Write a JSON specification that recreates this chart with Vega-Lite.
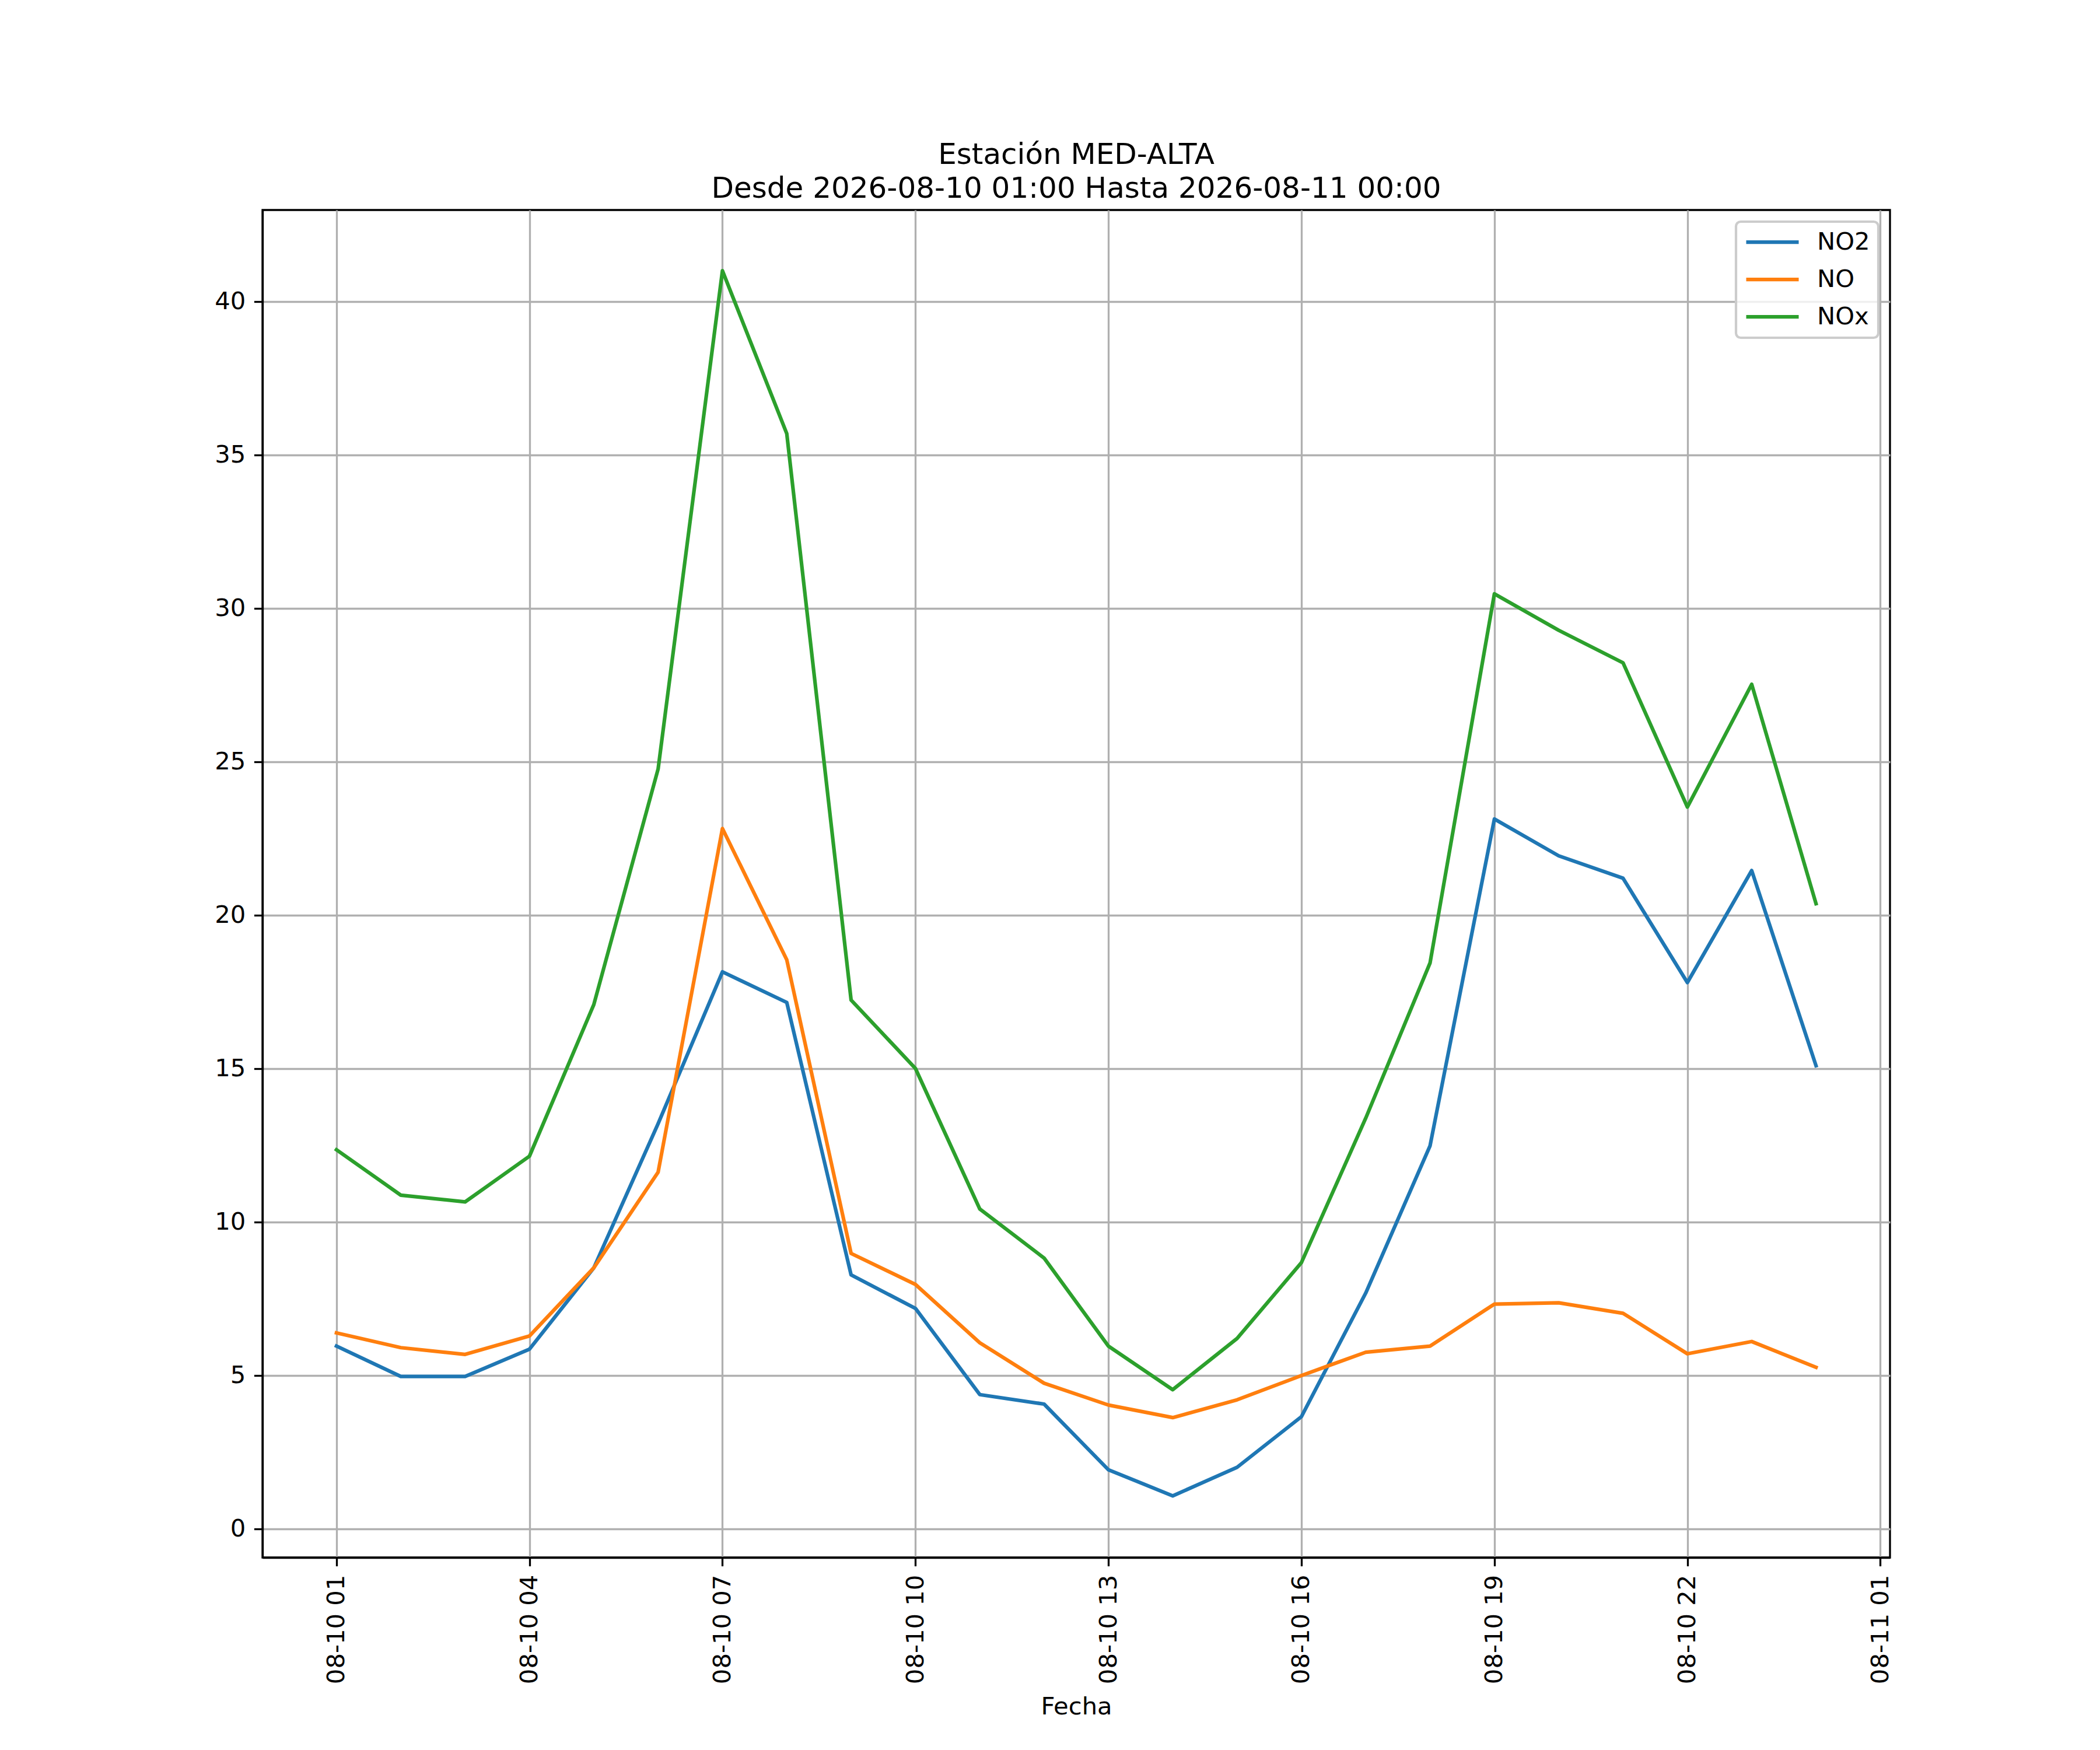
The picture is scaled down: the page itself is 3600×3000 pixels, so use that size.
{
  "$schema": "https://vega.github.io/schema/vega-lite/v6.json",
  "autosize": "none",
  "width": 2790,
  "height": 2310,
  "padding": {"left": 450, "top": 360, "right": 360, "bottom": 330},
  "background": "white",
  "title": {
    "text": ["Estación MED-ALTA", "Desde 2026-08-10 01:00 Hasta 2026-08-11 00:00"],
    "fontSize": 50,
    "font": "DejaVu Sans",
    "fontWeight": "normal",
    "color": "black",
    "anchor": "middle",
    "offset": 11,
    "lineHeight": 58
  },
  "config": {
    "view": {"stroke": "black", "strokeWidth": 3.3},
    "axis": {
      "labelFont": "DejaVu Sans",
      "labelFontSize": 41.7,
      "labelColor": "black",
      "labelLimit": 0,
      "titleFont": "DejaVu Sans",
      "titleFontSize": 41.7,
      "titleFontWeight": "normal",
      "titleColor": "black",
      "domainColor": "black",
      "domainWidth": 3.3,
      "tickColor": "black",
      "tickWidth": 3.3,
      "tickSize": 14.6,
      "labelPadding": 14.6,
      "gridColor": "#b0b0b0",
      "gridWidth": 3.3,
      "gridOpacity": 1
    },
    "legend": {
      "strokeWidth": 4.2
    }
  },
  "data": {
    "values": [
      {"t": "2026-08-10T01:00:00", "s": "NO2", "v": 5.95},
      {"t": "2026-08-10T02:00:00", "s": "NO2", "v": 4.96},
      {"t": "2026-08-10T03:00:00", "s": "NO2", "v": 4.96},
      {"t": "2026-08-10T04:00:00", "s": "NO2", "v": 5.85},
      {"t": "2026-08-10T05:00:00", "s": "NO2", "v": 8.5},
      {"t": "2026-08-10T06:00:00", "s": "NO2", "v": 13.2},
      {"t": "2026-08-10T07:00:00", "s": "NO2", "v": 18.15},
      {"t": "2026-08-10T08:00:00", "s": "NO2", "v": 17.15},
      {"t": "2026-08-10T09:00:00", "s": "NO2", "v": 8.27},
      {"t": "2026-08-10T10:00:00", "s": "NO2", "v": 7.18},
      {"t": "2026-08-10T11:00:00", "s": "NO2", "v": 4.37},
      {"t": "2026-08-10T12:00:00", "s": "NO2", "v": 4.06},
      {"t": "2026-08-10T13:00:00", "s": "NO2", "v": 1.92},
      {"t": "2026-08-10T14:00:00", "s": "NO2", "v": 1.07},
      {"t": "2026-08-10T15:00:00", "s": "NO2", "v": 2.0},
      {"t": "2026-08-10T16:00:00", "s": "NO2", "v": 3.65},
      {"t": "2026-08-10T17:00:00", "s": "NO2", "v": 7.68},
      {"t": "2026-08-10T18:00:00", "s": "NO2", "v": 12.48},
      {"t": "2026-08-10T19:00:00", "s": "NO2", "v": 23.13},
      {"t": "2026-08-10T20:00:00", "s": "NO2", "v": 21.93},
      {"t": "2026-08-10T21:00:00", "s": "NO2", "v": 21.2},
      {"t": "2026-08-10T22:00:00", "s": "NO2", "v": 17.8},
      {"t": "2026-08-10T23:00:00", "s": "NO2", "v": 21.45},
      {"t": "2026-08-11T00:00:00", "s": "NO2", "v": 15.09},
      {"t": "2026-08-10T01:00:00", "s": "NO", "v": 6.38},
      {"t": "2026-08-10T02:00:00", "s": "NO", "v": 5.9},
      {"t": "2026-08-10T03:00:00", "s": "NO", "v": 5.68},
      {"t": "2026-08-10T04:00:00", "s": "NO", "v": 6.28},
      {"t": "2026-08-10T05:00:00", "s": "NO", "v": 8.5},
      {"t": "2026-08-10T06:00:00", "s": "NO", "v": 11.62},
      {"t": "2026-08-10T07:00:00", "s": "NO", "v": 22.82},
      {"t": "2026-08-10T08:00:00", "s": "NO", "v": 18.54},
      {"t": "2026-08-10T09:00:00", "s": "NO", "v": 8.97},
      {"t": "2026-08-10T10:00:00", "s": "NO", "v": 7.96},
      {"t": "2026-08-10T11:00:00", "s": "NO", "v": 6.06},
      {"t": "2026-08-10T12:00:00", "s": "NO", "v": 4.74},
      {"t": "2026-08-10T13:00:00", "s": "NO", "v": 4.03},
      {"t": "2026-08-10T14:00:00", "s": "NO", "v": 3.62},
      {"t": "2026-08-10T15:00:00", "s": "NO", "v": 4.2},
      {"t": "2026-08-10T16:00:00", "s": "NO", "v": 4.99},
      {"t": "2026-08-10T17:00:00", "s": "NO", "v": 5.75},
      {"t": "2026-08-10T18:00:00", "s": "NO", "v": 5.95},
      {"t": "2026-08-10T19:00:00", "s": "NO", "v": 7.32},
      {"t": "2026-08-10T20:00:00", "s": "NO", "v": 7.36},
      {"t": "2026-08-10T21:00:00", "s": "NO", "v": 7.02},
      {"t": "2026-08-10T22:00:00", "s": "NO", "v": 5.7},
      {"t": "2026-08-10T23:00:00", "s": "NO", "v": 6.1},
      {"t": "2026-08-11T00:00:00", "s": "NO", "v": 5.26},
      {"t": "2026-08-10T01:00:00", "s": "NOx", "v": 12.35},
      {"t": "2026-08-10T02:00:00", "s": "NOx", "v": 10.87},
      {"t": "2026-08-10T03:00:00", "s": "NOx", "v": 10.65},
      {"t": "2026-08-10T04:00:00", "s": "NOx", "v": 12.14},
      {"t": "2026-08-10T05:00:00", "s": "NOx", "v": 17.08},
      {"t": "2026-08-10T06:00:00", "s": "NOx", "v": 24.76},
      {"t": "2026-08-10T07:00:00", "s": "NOx", "v": 41.0},
      {"t": "2026-08-10T08:00:00", "s": "NOx", "v": 35.69},
      {"t": "2026-08-10T09:00:00", "s": "NOx", "v": 17.23},
      {"t": "2026-08-10T10:00:00", "s": "NOx", "v": 15.0},
      {"t": "2026-08-10T11:00:00", "s": "NOx", "v": 10.42},
      {"t": "2026-08-10T12:00:00", "s": "NOx", "v": 8.82},
      {"t": "2026-08-10T13:00:00", "s": "NOx", "v": 5.95},
      {"t": "2026-08-10T14:00:00", "s": "NOx", "v": 4.53},
      {"t": "2026-08-10T15:00:00", "s": "NOx", "v": 6.2},
      {"t": "2026-08-10T16:00:00", "s": "NOx", "v": 8.67},
      {"t": "2026-08-10T17:00:00", "s": "NOx", "v": 13.38},
      {"t": "2026-08-10T18:00:00", "s": "NOx", "v": 18.44},
      {"t": "2026-08-10T19:00:00", "s": "NOx", "v": 30.47},
      {"t": "2026-08-10T20:00:00", "s": "NOx", "v": 29.28},
      {"t": "2026-08-10T21:00:00", "s": "NOx", "v": 28.22},
      {"t": "2026-08-10T22:00:00", "s": "NOx", "v": 23.52},
      {"t": "2026-08-10T23:00:00", "s": "NOx", "v": 27.52},
      {"t": "2026-08-11T00:00:00", "s": "NOx", "v": 20.37}
    ]
  },
  "mark": {"type": "line", "strokeWidth": 6.25, "strokeJoin": "round", "strokeCap": "square"},
  "encoding": {
    "x": {
      "field": "t",
      "type": "temporal",
      "title": "Fecha",
      "scale": {
        "domain": [
          {"year": 2026, "month": 8, "date": 9, "hours": 23, "minutes": 51},
          {"year": 2026, "month": 8, "date": 11, "hours": 1, "minutes": 9}
        ],
        "nice": false
      },
      "axis": {
        "values": [
          {"year": 2026, "month": 8, "date": 10, "hours": 1},
          {"year": 2026, "month": 8, "date": 10, "hours": 4},
          {"year": 2026, "month": 8, "date": 10, "hours": 7},
          {"year": 2026, "month": 8, "date": 10, "hours": 10},
          {"year": 2026, "month": 8, "date": 10, "hours": 13},
          {"year": 2026, "month": 8, "date": 10, "hours": 16},
          {"year": 2026, "month": 8, "date": 10, "hours": 19},
          {"year": 2026, "month": 8, "date": 10, "hours": 22},
          {"year": 2026, "month": 8, "date": 11, "hours": 1}
        ],
        "format": "%m-%d %H",
        "labelAngle": 270,
        "titlePadding": 35
      }
    },
    "y": {
      "field": "v",
      "type": "quantitative",
      "title": null,
      "scale": {"domain": [-0.94, 42.98], "nice": false, "zero": false},
      "axis": {"values": [0, 5, 10, 15, 20, 25, 30, 35, 40]}
    },
    "color": {
      "field": "s",
      "type": "nominal",
      "scale": {"domain": ["NO2", "NO", "NOx"], "range": ["#1f77b4", "#ff7f0e", "#2ca02c"]},
      "legend": {
        "title": null,
        "orient": "top-right",
        "offset": 20,
        "padding": 14,
        "symbolType": "stroke",
        "symbolSize": 8100,
        "symbolStrokeWidth": 6.25,
        "clipHeight": 42,
        "labelFont": "DejaVu Sans",
        "labelFontSize": 41.7,
        "labelColor": "black",
        "labelOffset": 28,
        "rowPadding": 21,
        "strokeColor": "#cccccc",
        "fillColor": "rgba(255,255,255,0.8)",
        "cornerRadius": 8
      }
    }
  }
}
